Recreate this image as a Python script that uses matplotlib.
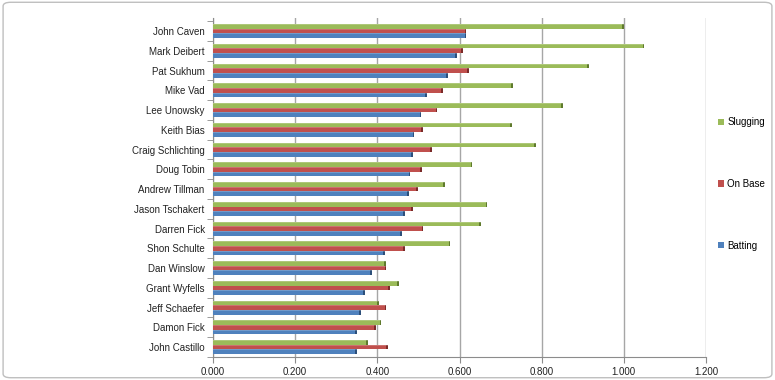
import matplotlib
matplotlib.use("Agg")
import matplotlib.pyplot as plt
import numpy as np
from matplotlib.patches import FancyBboxPatch

players = ["John Caven", "Mark Deibert", "Pat Sukhum", "Mike Vad", "Lee Unowsky",
           "Keith Bias", "Craig Schlichting", "Doug Tobin", "Andrew Tillman",
           "Jason Tschakert", "Darren Fick", "Shon Schulte", "Dan Winslow",
           "Grant Wyfells", "Jeff Schaefer", "Damon Fick", "John Castillo"]
slugging = [1.000, 1.050, 0.914, 0.730, 0.852, 0.727, 0.785, 0.631, 0.564,
            0.668, 0.652, 0.578, 0.420, 0.453, 0.404, 0.410, 0.377]
on_base = [0.617, 0.608, 0.622, 0.559, 0.546, 0.511, 0.533, 0.509, 0.498,
           0.486, 0.512, 0.467, 0.422, 0.430, 0.422, 0.397, 0.426]
batting = [0.617, 0.593, 0.571, 0.521, 0.507, 0.490, 0.487, 0.480, 0.477,
           0.467, 0.460, 0.418, 0.387, 0.369, 0.360, 0.350, 0.350]
x_ticks = [0.0, 0.2, 0.4, 0.6, 0.8, 1.0, 1.2]

plt.rcParams['font.family'] = ['Liberation Sans', 'DejaVu Sans']
fig = plt.figure(figsize=(7.75, 3.8), dpi=100)
fig.patch.set_facecolor("white")
fig.patches.append(FancyBboxPatch((0.004, 0.006), 0.992, 0.988, boxstyle="round,pad=0,rounding_size=0.01",
                                  transform=fig.transFigure, fill=False, edgecolor="#bfbfbf", linewidth=1))

ax = fig.add_axes([213/775, 1-357/380, (706-213)/775, (357-18)/380])
y = np.arange(len(players))
h = 0.235
series = [(slugging, -h, "#9BBB59", "#5f7a2c", "Slugging"),
          (on_base, 0.0, "#C0504D", "#7a2a28", "On Base"),
          (batting, h, "#4F81BD", "#2c4f7a", "Batting")]
handles = {}
for vals, off, col, dark, lab in series:
    vals = np.array(vals)
    b = ax.barh(y + off, vals, height=h, color=col, zorder=3, label=lab)
    handles[lab] = b
    ax.barh(y + off, np.full_like(vals, 0.004), left=vals - 0.004, height=h,
            color=dark, zorder=4)
    ax.barh(y + off - h*0.4, vals, height=h*0.2, color="white", alpha=0.2, zorder=4)

ax.set_xlim(0, 1.2)
ax.set_ylim(16.5, -0.66)
ax.set_xticks(x_ticks)
ax.set_xticklabels(["%.3f" % t for t in x_ticks], fontsize=7, color="#222222")
ax.set_yticks(y)
ax.set_yticklabels(players, fontsize=7, color="#222222")
ax.set_yticks(np.arange(-0.5, len(players), 1.0), minor=True)
ax.tick_params(axis="y", which="major", length=0, pad=6)
ax.tick_params(axis="y", which="minor", length=4, color="#8c8c8c", direction="out")
ax.tick_params(axis="x", length=4, color="#8c8c8c", direction="out", pad=3)
ax.grid(axis="x", color="#a6a6a6", linewidth=1, zorder=0)
for s in ["top", "right"]:
    ax.spines[s].set_visible(False)
for s in ["left", "bottom"]:
    ax.spines[s].set_color("#8c8c8c")

leg = fig.legend([handles["Slugging"], handles["On Base"], handles["Batting"]],
                 ["Slugging", "On Base", "Batting"],
                 loc="center left", bbox_to_anchor=(709/775, 1-184/380),
                 frameon=False, fontsize=7, labelspacing=5.3,
                 handlelength=0.6, handleheight=0.6, handletextpad=0.4)

fig.savefig("out.png", dpi=100)
